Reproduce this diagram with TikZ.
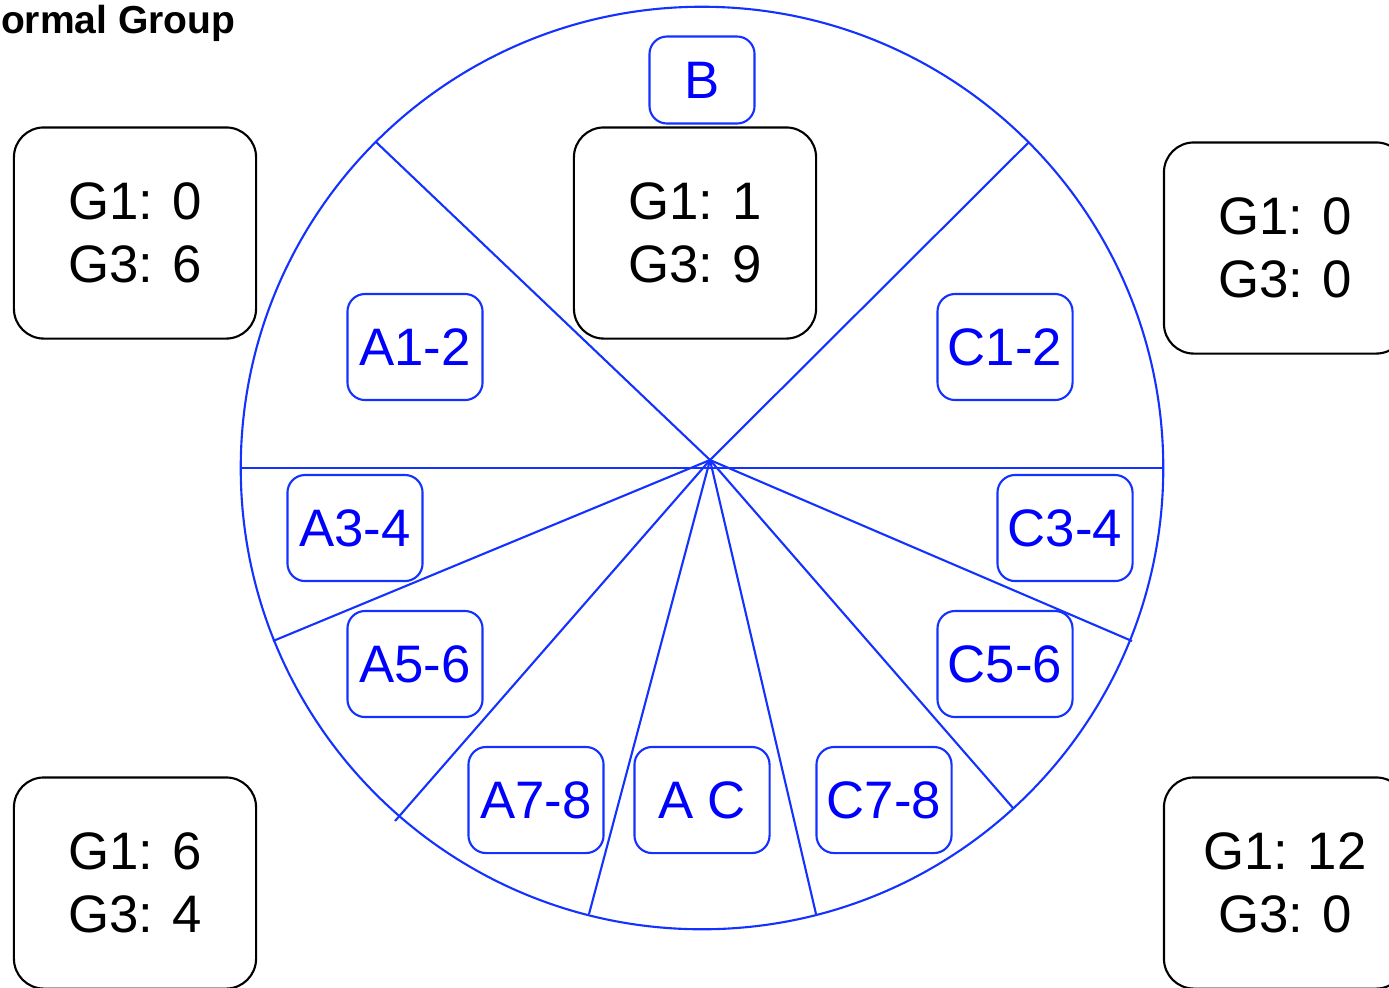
\documentclass[tikz,border=0pt]{standalone}
\usepackage{fontspec}
\setmainfont{Liberation Sans}
\definecolor{wheelblue}{RGB}{20,50,255}
\begin{document}
\begin{tikzpicture}[x=0.01cm,y=-0.01cm,
    tally/.style={draw=black, fill=white, line width=0.6pt, rounded corners=8.5pt,
      minimum width=2.42cm, minimum height=2.11cm, inner sep=0pt, align=center,
      font=\fontsize{15}{18}\selectfont},
    slot/.style={draw=wheelblue, fill=white, line width=0.6pt, rounded corners=5pt,
      minimum width=1.35cm, minimum height=1.06cm, inner sep=0pt, text=blue,
      font=\fontsize{15}{18}\selectfont}]
    \useasboundingbox (0,0) rectangle (1389,987);

    % Title (cut at the left edge)
    \node[anchor=base east, inner sep=0pt, font=\fontsize{11.1}{13}\selectfont\bfseries] (title) at (236,33) {Normal Group};

    % The wheel
    \node[circle, draw=wheelblue, line width=0.6pt, minimum size=9.22cm, inner sep=0pt, outer sep=0pt] (wheel) at (702,468) {};
    \draw[wheelblue, line width=0.6pt] (wheel.west) -- (wheel.east);

    % Spokes from the hub
    \coordinate (hub) at (710,460);
    \foreach \px/\py [count=\i] in {376/142, 1029/142, 273/641, 1132/641, 395/821, 1013/808, 589/914, 816/914}{
        \coordinate (rim\i) at (\px,\py);
        \draw[wheelblue, line width=0.6pt] (hub) -- (rim\i);
    }

    % Sector labels
    \node[slot, minimum width=1.05cm, minimum height=0.87cm] (b) at (702,80) {B};
    \node[slot] (a12) at (415,347) {A1-2};
    \node[slot] (c12) at (1005,347) {C1-2};
    \node[slot] (a34) at (355,528) {A3-4};
    \node[slot] (c34) at (1065,528) {C3-4};
    \node[slot] (a56) at (415,664) {A5-6};
    \node[slot] (c56) at (1005,664) {C5-6};
    \node[slot] (a78) at (536,800) {A7-8};
    \node[slot] (ac) at (702,800) {A C};
    \node[slot] (c78) at (884,800) {C7-8};

    % Score boxes
    \node[tally] (topleft) at (135,233) {G1: 0\\G3: 6};
    \node[tally] (topmid) at (695,233) {G1: 1\\G3: 9};
    \node[tally] (topright) at (1285,248) {G1: 0\\G3: 0};
    \node[tally] (botleft) at (135,883) {G1: 6\\G3: 4};
    \node[tally] (botright) at (1285,883) {G1: 12\\G3: 0};

\end{tikzpicture}
\end{document}
